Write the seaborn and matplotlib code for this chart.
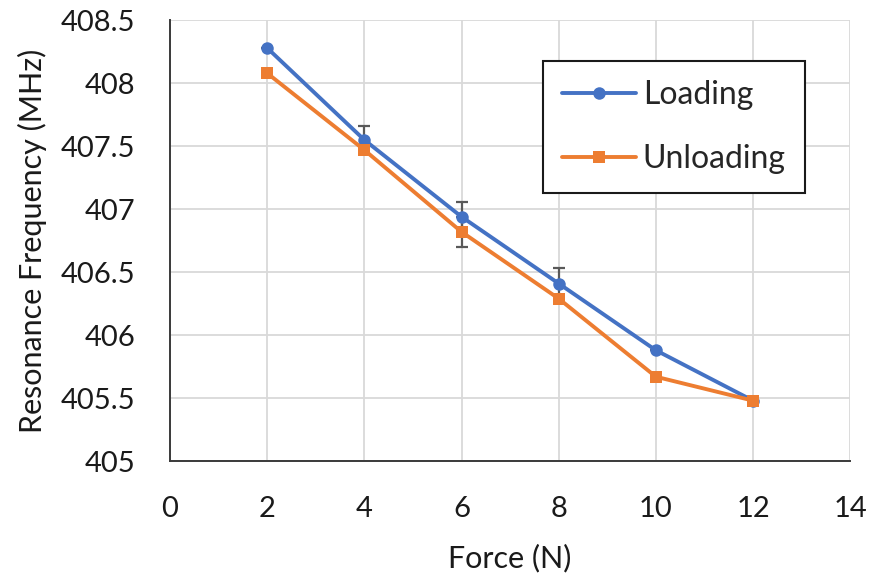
import seaborn as sns
import matplotlib.pyplot as plt
import numpy as np
import pandas as pd

# force (N) and resonance frequency (MHz)
force = [2, 4, 6, 8, 10, 12]
loading = [408.28, 407.55, 406.94, 406.41, 405.88, 405.48]
unloading = [408.08, 407.47, 406.82, 406.29, 405.67, 405.48]
loading_err = [0, 0.11, 0.12, 0.12, 0, 0]
unloading_err = [0, 0, 0.12, 0, 0, 0]

data = pd.DataFrame({
    "Force": force + force,
    "Freq": loading + unloading,
    "Series": ["Loading"] * len(force) + ["Unloading"] * len(force),
})

sns.set_style("whitegrid")
plt.rcParams['font.family'] = ['Lato', 'DejaVu Sans']

fig = plt.figure(figsize=(8.72, 5.8), dpi=100)
ax = fig.add_axes([0.195, 0.205, 0.78, 0.76])

colors = {"Loading": "#4472C4", "Unloading": "#ED7D31"}

# error bars first, so markers sit on top
ax.errorbar(force, loading, yerr=loading_err, fmt="none", ecolor="#595959",
            elinewidth=1.6, capsize=4.5, capthick=1.6, zorder=1)
ax.errorbar(force, unloading, yerr=unloading_err, fmt="none", ecolor="#595959",
            elinewidth=1.6, capsize=4.5, capthick=1.6, zorder=1)

sns.lineplot(data=data, x="Force", y="Freq", hue="Series", style="Series",
             markers={"Loading": "o", "Unloading": "s"}, dashes=False,
             palette=colors, linewidth=2.8, markersize=9,
             markeredgewidth=0, ax=ax, zorder=3)

ax.set_xlim(0, 14)
ax.set_ylim(405, 408.5)
ax.set_xticks(np.arange(0, 15, 2))
ax.set_yticks(np.arange(405, 408.51, 0.5))
ax.set_yticklabels(["405", "405.5", "406", "406.5", "407", "407.5", "408", "408.5"])

ax.grid(True, color="#d9d9d9", linewidth=1.3)
for side in ["top", "right"]:
    ax.spines[side].set_visible(False)
for side in ["left", "bottom"]:
    ax.spines[side].set_color("#3a3a3a")
    ax.spines[side].set_linewidth(1.4)

ax.tick_params(axis="both", labelsize=21, colors="#1a1a1a", direction="in",
               length=7, width=1.4, pad=25)
ax.tick_params(axis="both", color="#3a3a3a")
ax.set_xlabel("Force (N)", fontsize=22, color="#1a1a1a", labelpad=16)
ax.set_ylabel("Resonance Frequency (MHz)", fontsize=22, color="#1a1a1a", labelpad=10)

leg = ax.legend(loc="upper left", bbox_to_anchor=(0.5485, 0.907), fontsize=23,
                frameon=True, fancybox=False, edgecolor="#1a1a1a", framealpha=1,
                borderpad=0.6, labelspacing=1.05, handlelength=2.3, handletextpad=0.22,
                borderaxespad=0)
leg.get_frame().set_linewidth(1.5)

plt.savefig("out.png", dpi=100)
